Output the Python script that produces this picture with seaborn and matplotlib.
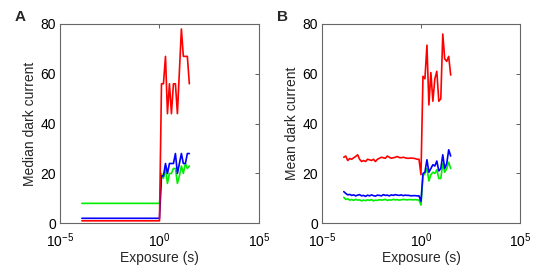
import numpy as np
import pandas as pd
import matplotlib
matplotlib.use('Agg')
import matplotlib.pyplot as plt
import seaborn as sns

# Exposure times (s), 0.1 decade steps
exposure = [
    1.26e-4, 1.58e-4, 2.0e-4, 2.51e-4, 3.16e-4, 3.98e-4, 5.01e-4, 6.31e-4, 7.94e-4,
    1.0e-3, 1.26e-3, 1.58e-3, 2.0e-3, 2.51e-3, 3.16e-3, 3.98e-3, 5.01e-3, 6.31e-3, 7.94e-3,
    1.0e-2, 1.26e-2, 1.58e-2, 2.0e-2, 2.51e-2, 3.16e-2, 3.98e-2, 5.01e-2, 6.31e-2, 7.94e-2,
    0.1, 0.126, 0.158, 0.2, 0.251, 0.316, 0.398, 0.501, 0.631, 0.794,
    1.0, 1.26, 1.58, 2.0, 2.51, 3.16, 3.98, 5.01, 6.31, 7.94,
    10.0, 12.6, 15.8, 20.0, 25.1, 31.6,
]

# Panel A: median dark current per channel
median_red = [1.0] * 40 + [56, 56, 67, 44, 56, 44, 56, 56, 44, 61, 78, 67, 67, 67, 56]
median_green = [8.0] * 40 + [20, 18, 22, 16, 20, 20, 22, 22, 16, 19, 23, 20, 24, 22, 23]
median_blue = [2.0] * 40 + [19, 19, 24, 20, 24, 24, 24, 28, 20, 24, 28, 24, 24, 28, 28]

# Panel B: mean dark current per channel
mean_red = [
    26.5, 27.0, 25.2, 26.0, 25.7, 26.3, 26.8, 27.5, 25.7, 24.8, 25.2, 24.8, 25.7,
    25.5, 25.2, 25.7, 24.8, 25.7, 26.1, 26.5, 26.3, 26.1, 27.0, 26.5, 26.1, 26.3,
    26.5, 26.8, 26.4, 26.3, 26.5, 26.3, 26.1, 26.1, 26.2, 26.1, 26.0, 25.7, 25.7,
    19.5,
    59, 58, 71.5, 47.5, 60.5, 49, 58, 61, 49, 50, 76, 66, 65, 67, 59.5,
]
mean_blue = [
    12.7, 12.0, 11.4, 11.6, 11.2, 11.4, 11.0, 11.3, 11.5, 11.0, 11.2, 10.8, 11.3,
    11.0, 11.4, 11.1, 10.9, 11.3, 11.2, 11.0, 11.5, 11.2, 11.3, 11.0, 11.4, 11.2,
    11.5, 11.3, 11.2, 11.4, 11.1, 11.3, 11.2, 11.2, 11.0, 11.1, 11.1, 11.0, 11.0,
    8.8,
    20, 20.5, 25.5, 20.5, 22, 23.5, 23, 25, 21, 22, 27.5, 22, 24, 29.5, 27,
]
mean_green = [
    10.4, 9.6, 9.8, 9.3, 9.5, 9.2, 9.6, 9.3, 9.4, 9.0, 9.3, 9.1, 9.4,
    9.2, 9.5, 9.0, 9.3, 9.2, 9.5, 9.3, 9.4, 9.6, 9.2, 9.4, 9.3, 9.6,
    9.4, 9.5, 9.3, 9.4, 9.6, 9.5, 9.4, 9.5, 9.5, 9.4, 9.5, 9.4, 9.3,
    7.3,
    19, 20, 22, 17, 19.5, 20.5, 20, 21.5, 18, 18, 24, 20.5, 22, 24.5, 22,
]

channels = ['green', 'blue', 'red']
colors = {'red': '#ff0000', 'green': '#00ee00', 'blue': '#0000ff'}


def to_long(series):
    frames = []
    for ch in channels:
        frames.append(pd.DataFrame({'Exposure': exposure, 'value': series[ch], 'channel': ch}))
    return pd.concat(frames, ignore_index=True)


df_a = to_long({'red': median_red, 'green': median_green, 'blue': median_blue})
df_b = to_long({'red': mean_red, 'green': mean_green, 'blue': mean_blue})

sns.set_style('white')
plt.rcParams['font.family'] = ['Liberation Sans', 'DejaVu Sans']
plt.rcParams['mathtext.default'] = 'regular'

fig = plt.figure(figsize=(5.54, 2.77), dpi=100)
ax_a = fig.add_axes([0.1083, 0.1939, 0.3592, 0.7195])
ax_b = fig.add_axes([0.5812, 0.1939, 0.3574, 0.7195])

for ax, df, ylabel, tag in [(ax_a, df_a, 'Median dark current', 'A'),
                            (ax_b, df_b, 'Mean dark current', 'B')]:
    sns.lineplot(data=df, x='Exposure', y='value', hue='channel', palette=colors,
                 sort=False, estimator=None, legend=False, linewidth=1.2, ax=ax)
    ax.set_xscale('log')
    ax.set_xlim(1e-5, 1e5)
    ax.set_ylim(0, 80)
    ax.set_xticks([1e-5, 1, 1e5])
    ax.set_xticklabels(['$10^{-5}$', '$10^{0}$', '$10^{5}$'])
    ax.minorticks_off()
    ax.set_yticks([0, 20, 40, 60, 80])
    ax.tick_params(direction='in', length=3, width=0.6, top=True, right=True,
                   labelsize=10, colors='#444444', labelcolor='black')
    ax.tick_params(axis='x', pad=6)
    ax.tick_params(axis='y', pad=3)
    for s in ax.spines.values():
        s.set_color('#666666')
        s.set_linewidth(0.8)
    ax.set_xlabel('Exposure (s)', fontsize=10, labelpad=0.5)
    ax.set_ylabel(ylabel, fontsize=10, labelpad=2)
    pos = ax.get_position()
    fig.text(pos.x0 - 0.082, 0.965, tag, fontsize=11, fontweight='bold', va='top')

fig.savefig('out.png', dpi=100)
